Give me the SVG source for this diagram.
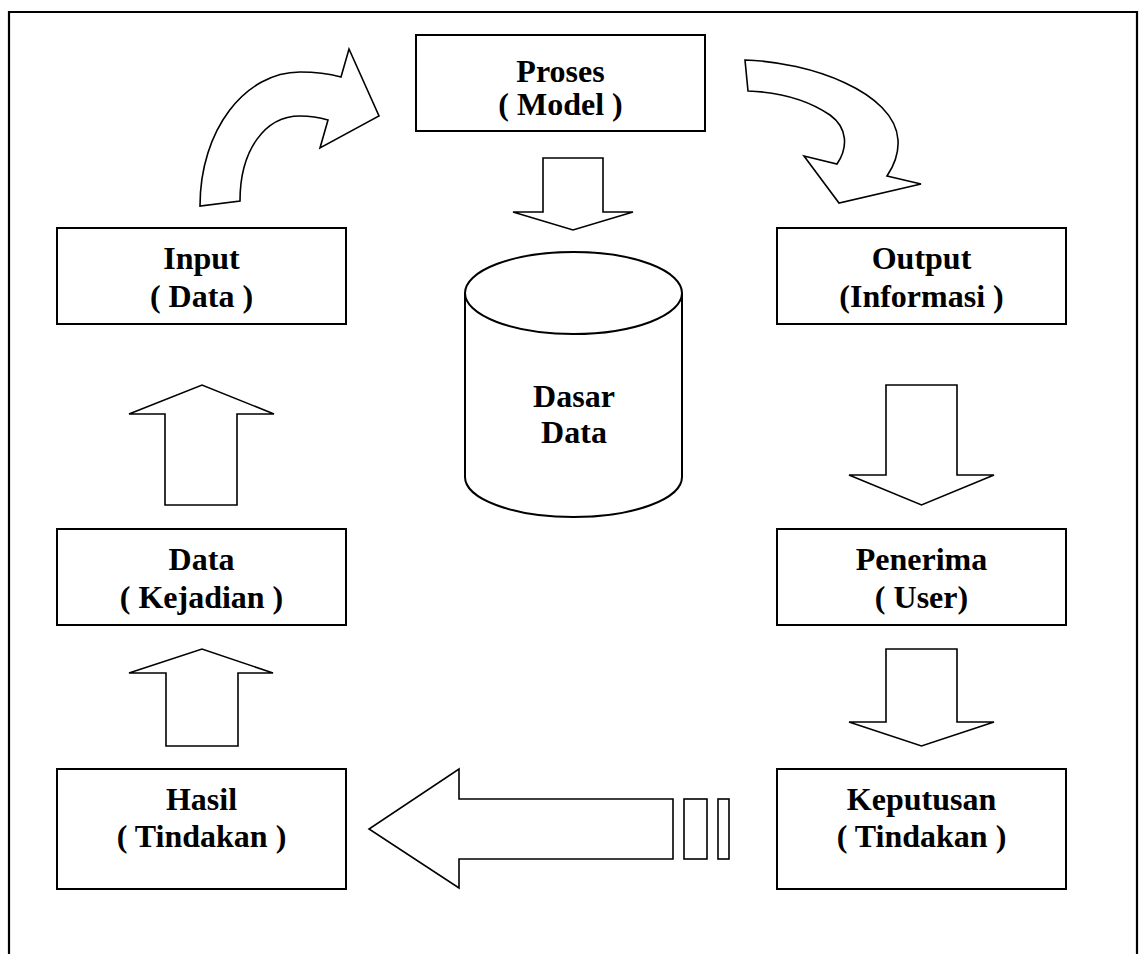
<svg xmlns="http://www.w3.org/2000/svg" width="1144" height="954" viewBox="0 0 1144 954">
  <style>
    .box { fill: #ffffff; stroke: #000000; stroke-width: 2; }
    .arrow { fill: #ffffff; stroke: #000000; stroke-width: 1.6; stroke-linejoin: miter; }
    .frame { fill: none; stroke: #000000; stroke-width: 2.2; }
    text { font-family: "Liberation Serif", "Times New Roman", serif; font-weight: bold; font-size: 32px; fill: #000000; text-anchor: middle; }
  </style>
  <rect width="1144" height="954" fill="#ffffff"/>
  <!-- page frame, open at the bottom -->
  <path class="frame" d="M9,960 V12 H1137 V960"/>

  <g id="connectors">
    <!-- Input to Proses: curved arrow -->
    <path class="arrow" d="M200,206 C200,130 245,72 300,72 C318,72 330,74 341,77 L349,49 L379,116 L320,148 L328,120 C318,117 308,116 300,116 C265,116 240,150 240,201 Z"/>
    <!-- Proses to Output: curved arrow -->
    <path class="arrow" d="M745,60 C810,62 895,92 898,140 C899,155 893,167 887,176 L921,184 L839,203 L804,156 L837,164 C848,148 848,128 830,115 C805,98 775,92 748,91 Z"/>
    <!-- Proses to Dasar Data -->
    <path class="arrow" d="M543,158 H603 V212 H633 L573,230 L513,212 H543 Z"/>
    <!-- Output to Penerima -->
    <path class="arrow" d="M886,385 H957 V475 H994 L921.5,505 L849,475 H886 Z"/>
    <!-- Penerima to Keputusan -->
    <path class="arrow" d="M886,649 H957 V722 H994 L921.5,746 L849,722 H886 Z"/>
    <!-- Keputusan to Hasil -->
    <path class="arrow" d="M673,799 V859 H459 V888 L369,829 L459,769 V799 Z"/>
    <rect class="arrow" x="684" y="799" width="23" height="60"/>
    <rect class="arrow" x="718" y="799" width="11" height="60"/>
    <!-- Hasil to Data -->
    <path class="arrow" d="M166,746 V673 H129 L202,649 L273,673 H238 V746 Z"/>
    <!-- Data to Input -->
    <path class="arrow" d="M165,505 V414 H129 L202,385 L274,414 H237 V505 Z"/>
  </g>

  <g id="proses">
    <rect class="box" x="416" y="35" width="289" height="96"/>
    <text x="560.5" y="82">Proses</text>
    <text x="560.5" y="115">( Model )</text>
  </g>

  <g id="input">
    <rect class="box" x="57" y="228" width="289" height="96"/>
    <text x="201.5" y="269">Input</text>
    <text x="201.5" y="307">( Data )</text>
  </g>

  <g id="output">
    <rect class="box" x="777" y="228" width="289" height="96"/>
    <text x="921.5" y="269">Output</text>
    <text x="921.5" y="307">(Informasi )</text>
  </g>

  <g id="dasar-data">
    <path class="box" d="M465,293 V477 A108.5,40 0 0 0 682,477 V293"/>
    <ellipse class="box" cx="573.5" cy="293" rx="108.5" ry="41"/>
    <text x="574" y="407">Dasar</text>
    <text x="574" y="443">Data</text>
  </g>

  <g id="data-kejadian">
    <rect class="box" x="57" y="529" width="289" height="96"/>
    <text x="201.5" y="570">Data</text>
    <text x="201.5" y="608">( Kejadian )</text>
  </g>

  <g id="penerima">
    <rect class="box" x="777" y="529" width="289" height="96"/>
    <text x="921.5" y="570">Penerima</text>
    <text x="921.5" y="608">( User)</text>
  </g>

  <g id="hasil">
    <rect class="box" x="57" y="769" width="289" height="120"/>
    <text x="201.5" y="810">Hasil</text>
    <text x="201.5" y="847">( Tindakan )</text>
  </g>

  <g id="keputusan">
    <rect class="box" x="777" y="769" width="289" height="120"/>
    <text x="921.5" y="810">Keputusan</text>
    <text x="921.5" y="847">( Tindakan )</text>
  </g>
</svg>
